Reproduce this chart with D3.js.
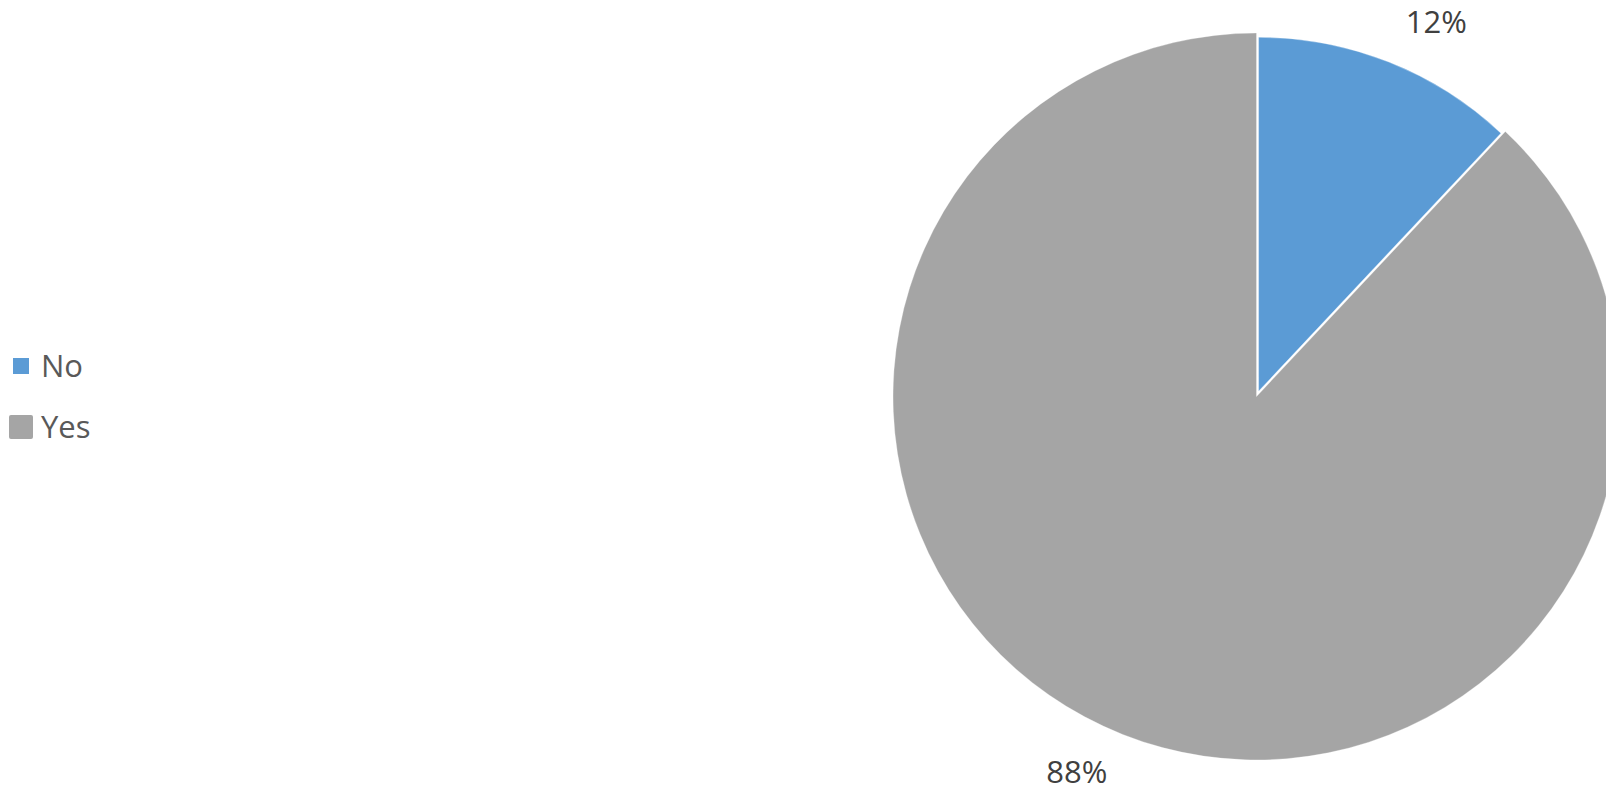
<!DOCTYPE html>
<html>
<head>
<meta charset="utf-8">
<script src="https://cdn.jsdelivr.net/npm/d3@7"></script>
<style>
  html, body { margin: 0; padding: 0; background: #fff; overflow: hidden; }
  svg { display: block; }
</style>
</head>
<body>
<svg id="chart" width="1606" height="791"></svg>
<script>
// ---- data ----
const categories = ["No", "Yes"];
const values = [12, 88];
const labels = ["12%", "88%"];
const colors = ["#5B9BD5", "#A5A5A5"];

// ---- layout ----
const W = 1606, H = 791;
const cx = 1256.5, cy = 396.5;
const R = 363.5;           // main radius
const Rexpl = 354;         // exploded slice radius
const explode = [5.7, 0];  // explode distance per slice
const labelR = 416;
const labelShift = 4 * Math.PI / 180;

const svg = d3.select("#chart");

const pie = d3.pie().sort(null).value(d => d)
  .startAngle(0).endAngle(2 * Math.PI);
const arcs = pie(values);

const g = svg.append("g").attr("transform", `translate(${cx},${cy})`);

// draw Yes first then No on top
const order = [1, 0];
order.forEach(i => {
  const a = arcs[i];
  const mid = (a.startAngle + a.endAngle) / 2;
  const d = explode[i];
  const dx = d * Math.sin(mid), dy = -d * Math.cos(mid);
  const arc = d3.arc().innerRadius(0).outerRadius(d > 0 ? Rexpl : R);
  g.append("path")
    .attr("d", arc(a))
    .attr("transform", `translate(${dx},${dy})`)
    .attr("fill", colors[i])
    .attr("stroke", "#fff")
    .attr("stroke-opacity", 0.6)
    .attr("stroke-width", 0.5);
});

// labels
arcs.forEach((a, i) => {
  const mid = (a.startAngle + a.endAngle) / 2 + labelShift;
  g.append("text")
    .attr("x", labelR * Math.sin(mid))
    .attr("y", -labelR * Math.cos(mid))
    .attr("dy", "0.36em")
    .attr("text-anchor", "middle")
    .attr("font-family", "'Open Sans', 'Noto Sans', sans-serif")
    .attr("font-size", 31)
    .attr("fill", "#404040")
    .text(labels[i]);
});

// legend
const legend = svg.append("g");
const legendY = [366, 427];
const markerSize = [16, 24];
categories.forEach((c, i) => {
  const s = markerSize[i];
  legend.append("rect")
    .attr("x", 21 - s / 2)
    .attr("y", legendY[i] - s / 2)
    .attr("width", s).attr("height", s)
    .attr("rx", i === 1 ? 2 : 0)
    .attr("fill", colors[i]);
  legend.append("text")
    .attr("x", 41)
    .attr("y", legendY[i])
    .attr("dy", "0.36em")
    .attr("font-family", "'Open Sans', 'Noto Sans', sans-serif")
    .attr("font-size", 31)
    .attr("fill", "#595959")
    .text(c);
});
</script>
</body>
</html>
